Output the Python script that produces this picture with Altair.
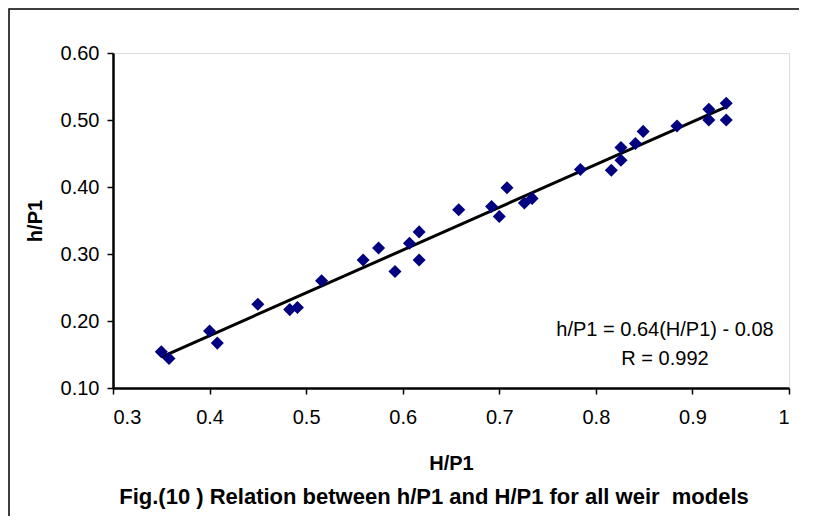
import altair as alt
import pandas as pd

# H/P1 values (x) and h/P1 values (y)
H_P1 = [0.350, 0.358, 0.400, 0.408, 0.450, 0.483, 0.491, 0.516, 0.559, 0.575,
        0.592, 0.607, 0.617, 0.617, 0.658, 0.692, 0.700, 0.708, 0.726, 0.734,
        0.784, 0.816, 0.826, 0.826, 0.841, 0.849, 0.884, 0.917, 0.917, 0.935, 0.935]
h_P1 = [0.154, 0.144, 0.185, 0.167, 0.225, 0.217, 0.220, 0.260, 0.291, 0.309,
        0.274, 0.316, 0.333, 0.291, 0.366, 0.371, 0.356, 0.399, 0.376, 0.383,
        0.426, 0.425, 0.459, 0.440, 0.465, 0.483, 0.491, 0.516, 0.500, 0.525, 0.500]

x_ticks = [0.3, 0.4, 0.5, 0.6, 0.7, 0.8, 0.9, 1.0]
y_ticks = [0.10, 0.20, 0.30, 0.40, 0.50, 0.60]

eq_lines = ["h/P1 = 0.64(H/P1) - 0.08", "R = 0.992"]
eq_x = [0.8716, 0.8716]
eq_y = [0.1866, 0.1440]

caption = ["Fig.(10 ) Relation between h/P1 and H/P1 for all weir\u00a0 models"]

FONT = "Liberation Sans"

df = pd.DataFrame({"H_P1": H_P1, "h_P1": h_P1})
eq_df = pd.DataFrame({"label": eq_lines, "x": eq_x, "y": eq_y})
cap_df = pd.DataFrame({"label": caption})

xscale = alt.Scale(domain=[0.3, 1.0], nice=False, zero=False)
yscale = alt.Scale(domain=[0.10, 0.60], nice=False, zero=False)

xaxis = alt.Axis(values=x_ticks, format="~g", grid=False, title="H/P1",
                 labelFontSize=20, labelFont=FONT, labelColor="black",
                 labelPadding=13, tickSize=6, tickColor="black", tickWidth=1.5,
                 domainColor="black", domainWidth=2.5,
                 titleFont=FONT, titleFontSize=20, titleFontWeight="bold",
                 titleColor="black", titleX=338, titleY=75,
                 titleBaseline="middle", titleAlign="center")
yaxis = alt.Axis(values=y_ticks, format=".2f", grid=False, title="h/P1",
                 labelFontSize=20, labelFont=FONT, labelColor="black",
                 labelPadding=8, tickSize=6, tickColor="black", tickWidth=1.5,
                 domainColor="black", domainWidth=2.5,
                 titleFont=FONT, titleFontSize=20, titleFontWeight="bold",
                 titleColor="black", titleX=-78, titleY=167.5, titleAngle=-90,
                 titleBaseline="middle", titleAlign="center")

points = alt.Chart(df).mark_point(shape="diamond", filled=True, size=170,
                                  color="#000080", opacity=1).encode(
    x=alt.X("H_P1:Q", scale=xscale, axis=xaxis),
    y=alt.Y("h_P1:Q", scale=yscale, axis=yaxis),
)

fit = alt.Chart(df).transform_regression("H_P1", "h_P1").mark_line(
    color="black", strokeWidth=3).encode(
    x=alt.X("H_P1:Q", scale=xscale),
    y=alt.Y("h_P1:Q", scale=yscale),
)

eq = alt.Chart(eq_df).mark_text(font=FONT, fontSize=20, color="black",
                                align="center", baseline="middle").encode(
    x=alt.X("x:Q", scale=xscale),
    y=alt.Y("y:Q", scale=yscale),
    text="label:N",
)

cap = alt.Chart(cap_df).mark_text(font=FONT, fontSize=22, fontWeight="bold",
                                  color="black", align="center",
                                  baseline="alphabetic").encode(
    x=alt.value(321), y=alt.value(451), text="label:N")

frame_df = pd.DataFrame({"a": [0]})
frame = alt.Chart(frame_df).mark_rect(fill="white", fillOpacity=0,
                                      stroke="black", strokeWidth=1.5).encode(
    x=alt.value(-104), x2=alt.value(720), y=alt.value(-44), y2=alt.value(520))

chart = alt.layer(frame, fit, points, eq, cap).properties(
    width=676, height=335,
    autosize=alt.AutoSizeParams(type="none"),
    padding={"left": 105, "top": 45, "right": 10, "bottom": 128},
).configure_view(stroke="#808080", strokeWidth=1.5).configure(background="white")

chart.save("out.html", embed_options={"renderer": "svg", "actions": False})
